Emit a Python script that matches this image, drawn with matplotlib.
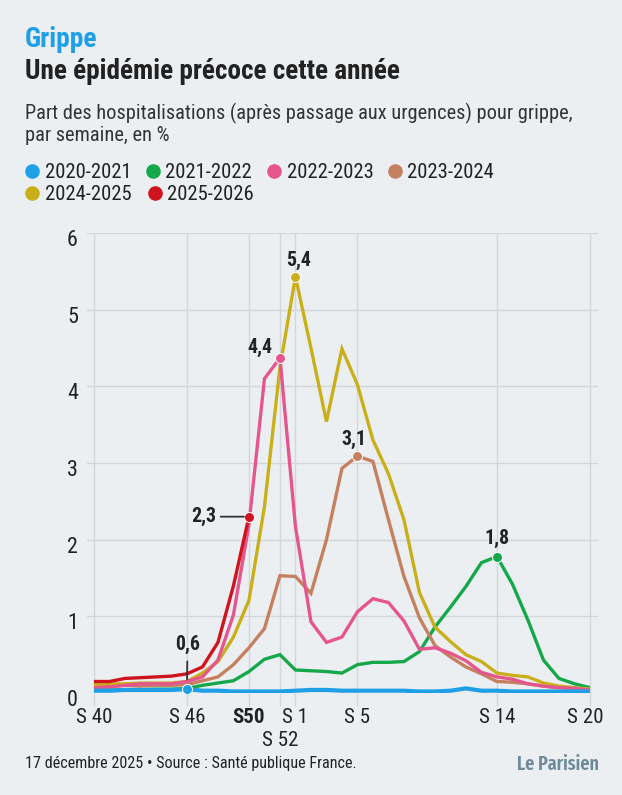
import matplotlib
matplotlib.use("Agg")
import matplotlib.pyplot as plt
import matplotlib.transforms as mtrans
from matplotlib import font_manager as fm
from matplotlib.lines import Line2D
import numpy as np

# ---------------- data ----------------
weeks = ["S 40", "S 41", "S 42", "S 43", "S 44", "S 45", "S 46", "S 47", "S 48", "S 49",
         "S50", "S 51", "S 52", "S 1", "S 2", "S 3", "S 4", "S 5", "S 6", "S 7", "S 8",
         "S 9", "S 10", "S 11", "S 12", "S 13", "S 14", "S 15", "S 16", "S 17", "S 18",
         "S 19", "S 20"]
tick_weeks = ["S 40", "S 46", "S50", "S 52", "S 1", "S 5", "S 14", "S 20"]

s2020 = [0.03, 0.03, 0.04, 0.04, 0.04, 0.04, 0.05, 0.03, 0.03, 0.02, 0.02, 0.02, 0.02,
         0.03, 0.04, 0.04, 0.03, 0.03, 0.03, 0.03, 0.03, 0.02, 0.02, 0.03, 0.06, 0.03,
         0.03, 0.02, 0.02, 0.02, 0.02, 0.02, 0.02]
s2021 = [0.04, 0.04, 0.04, 0.04, 0.05, 0.05, 0.06, 0.10, 0.13, 0.16, 0.28, 0.44, 0.50,
         0.30, 0.29, 0.28, 0.26, 0.37, 0.40, 0.40, 0.41, 0.54, 0.86, 1.12, 1.39, 1.70,
         1.78, 1.42, 0.95, 0.43, 0.19, 0.12, 0.07]
s2022 = [0.07, 0.08, 0.10, 0.12, 0.12, 0.12, 0.15, 0.21, 0.43, 1.02, 2.20, 4.10, 4.37,
         2.17, 0.93, 0.66, 0.73, 1.06, 1.23, 1.18, 0.94, 0.57, 0.59, 0.52, 0.42, 0.27,
         0.21, 0.18, 0.12, 0.09, 0.07, 0.06, 0.04]
s2023 = [0.09, 0.09, 0.10, 0.09, 0.10, 0.10, 0.11, 0.16, 0.21, 0.37, 0.59, 0.84, 1.53,
         1.52, 1.30, 2.00, 2.93, 3.09, 3.02, 2.26, 1.52, 0.98, 0.62, 0.47, 0.34, 0.25,
         0.15, 0.14, 0.12, 0.09, 0.07, 0.06, 0.04]
s2024 = [0.11, 0.12, 0.12, 0.13, 0.13, 0.13, 0.15, 0.26, 0.41, 0.73, 1.21, 2.43, 4.25,
         5.43, 4.50, 3.54, 4.49, 4.02, 3.30, 2.86, 2.26, 1.31, 0.86, 0.67, 0.50, 0.41,
         0.26, 0.23, 0.21, 0.13, 0.09, 0.07, 0.05]
s2025 = [0.15, 0.15, 0.19, 0.20, 0.21, 0.22, 0.25, 0.34, 0.66, 1.40, 2.30]

seasons = ["2020-2021", "2021-2022", "2022-2023", "2023-2024", "2024-2025", "2025-2026"]
colors = ["#1E9FE6", "#14A84A", "#E6568E", "#C4805F", "#C9B01A", "#D0141D"]

# annotated points: (season index, week, label text)
annotations = [(0, "S 46", "0,6"), (5, "S50", "2,3"), (2, "S 52", "4,4"),
               (4, "S 1", "5,4"), (3, "S 5", "3,1"), (1, "S 14", "1,8")]

# ---------------- fonts ----------------
names = sorted({f.name for f in fm.fontManager.ttflist})
prefs = ["Roboto Condensed", "Barlow Semi Condensed", "Roboto"]
FONT = next(p for p in prefs if p in names)
LOGO_FONT = next(p for p in ["Fira Sans Extra Condensed", "Barlow Condensed", FONT] if p in names)
plt.rcParams["font.family"] = [FONT, "DejaVu Sans"]

BG = "#ECEFF2"
GRID = "#D3D7DC"
TXT = "#222222"

W, H = 622, 795
fig = plt.figure(figsize=(W / 100, H / 100), dpi=100, facecolor=BG)
renderer = fig.canvas.get_renderer()


def fx(px):
    return px / W


def fy(py):
    return 1 - py / H


def fit(t, target_px):
    w = t.get_window_extent(renderer).width
    t.set_fontsize(t.get_fontsize() * target_px / w)
    return t


# ---------------- header ----------------
fit(fig.text(fx(25), fy(47), "Grippe", color="#1E9FE6", fontsize=17, fontweight="bold",
             va="baseline"), 72.5)
fit(fig.text(fx(25), fy(79), "Une épidémie précoce cette année", color=TXT, fontsize=18,
             fontweight="bold", va="baseline"), 376)
sub1 = fit(fig.text(fx(25), fy(119),
                    "Part des hospitalisations (après passage aux urgences) pour grippe,",
                    color="#333333", fontsize=12.3, va="baseline"), 547)
fig.text(fx(25), fy(141), "par semaine, en %", color="#333333",
         fontsize=sub1.get_fontsize(), va="baseline")

leg_pos = [(32, 171), (153, 171), (274, 171), (395, 171), (32, 193), (155, 193)]
leg_fs = None
for (lx, ly), lab, c in zip(leg_pos, seasons, colors):
    fig.add_artist(Line2D([fx(lx)], [fy(ly)], marker="o", ms=10.5, color=c, mew=0,
                          transform=fig.transFigure))
    t = fig.text(fx(lx + 12.5), fy(ly + 7), lab, color=TXT, fontsize=13.3, va="baseline")
    if leg_fs is None:
        fit(t, 86.7)
        leg_fs = t.get_fontsize()
    else:
        t.set_fontsize(leg_fs)

# size of tick text calibrated on "S 40" width
probe = fig.text(0, 0, "S 40", fontsize=14)
fit(probe, 36.5)
TICK_FS = probe.get_fontsize()
probe.remove()
probe = fig.text(0, 0, "5,4", fontsize=14, fontweight="bold")
fit(probe, 25)
LAB_FS = probe.get_fontsize()
probe.remove()

# ---------------- axes ----------------
ax = fig.add_axes([fx(87), fy(693), fx(598) - fx(87), (693 - 233) / H])
ax.set_facecolor(BG)
x = np.arange(len(weeks))
series = [s2020, s2021, s2022, s2023, s2024, s2025]
order = [1, 3, 4, 2, 0, 5]
lws = [3.0, 2.4, 2.4, 2.4, 2.4, 2.4]
for k in order:
    vals = series[k]
    ax.plot(x[:len(vals)], vals, color=colors[k], lw=lws[k], solid_joinstyle="miter",
            solid_capstyle="butt", zorder=3 + order.index(k) * 0.1)

ax.set_xlim(-0.45, 32.52)
ax.set_ylim(0, 6)
for sp in ax.spines.values():
    sp.set_visible(False)

tpos = [weeks.index(t) for t in tick_weeks]
ax.set_xticks(tpos)
ax.set_xticklabels(tick_weeks)
ax.set_yticks(range(0, 7))
ax.set_yticklabels([str(v) for v in range(0, 7)])
ax.grid(True, color=GRID, lw=1.0)
ax.set_axisbelow(True)
ax.tick_params(axis="x", length=9.5, width=1.0, color=GRID, pad=1.5, labelsize=TICK_FS,
               labelcolor=TXT)
ax.tick_params(axis="y", length=0, pad=6.5, labelsize=TICK_FS * 1.05, labelcolor=TXT)

off = mtrans.ScaledTranslation(0, -5 / 100, fig.dpi_scale_trans)
for lab in ax.get_yticklabels():
    lab.set_transform(lab.get_transform() + off)
off20 = mtrans.ScaledTranslation(-5 / 100, 0, fig.dpi_scale_trans)
for lab in ax.get_xticklabels():
    if lab.get_text() == "S50":
        lab.set_fontweight("bold")
    if lab.get_text() == "S 20":
        lab.set_transform(lab.get_transform() + off20)

# longer tick for S 52 whose label sits on a second row
t52 = ax.xaxis.get_major_ticks()[tick_weeks.index("S 52")]
t52.tick1line.set_markersize(24)
t52.set_pad(17.5)

# ---------------- annotations ----------------
P = 0.72  # px -> pt
label_style = {
    "0,6": dict(xytext=(0.5, 45), ha="center"),
    "2,3": dict(xytext=(-33, 0), ha="right"),
    "4,4": dict(xytext=(-7, 11), ha="right"),
    "5,4": dict(xytext=(3.5, 16.5), ha="center"),
    "3,1": dict(xytext=(-3.5, 16.5), ha="center"),
    "1,8": dict(xytext=(0, 18.5), ha="center"),
}
for si, wk, txt in annotations:
    i = weeks.index(wk)
    v = series[si][i]
    ax.plot([x[i]], [v], "o", color=colors[si], ms=7.2, mec="white", mew=0.7, zorder=6)
    st = label_style[txt]
    dx, dy = st["xytext"]
    arrow = None
    if txt == "2,3":
        arrow = dict(arrowstyle="-", color="#333333", lw=1.3, shrinkA=1.4, shrinkB=3.6)
    if txt == "0,6":
        arrow = dict(arrowstyle="-", color="#333333", lw=1.3, shrinkA=3.5, shrinkB=7.0)
    ax.annotate(txt, xy=(x[i], v), xytext=(dx * P, dy * P), textcoords="offset points",
                ha=st["ha"], va="center", fontsize=LAB_FS, fontweight="bold", color=TXT,
                arrowprops=arrow, zorder=7)

# ---------------- footer ----------------
fit(fig.text(fx(25), fy(768), "17 décembre 2025 • Source : Santé publique France.", color=TXT,
             fontsize=10.8, va="baseline"), 334)
fit(fig.text(fx(599), fy(770), "Le Parisien", color="#6F8B9A", fontsize=18,
             fontweight="semibold", ha="right", va="baseline", family=[LOGO_FONT, "DejaVu Sans"]),
    82)

fig.savefig("out.png", dpi=100, facecolor=BG)
